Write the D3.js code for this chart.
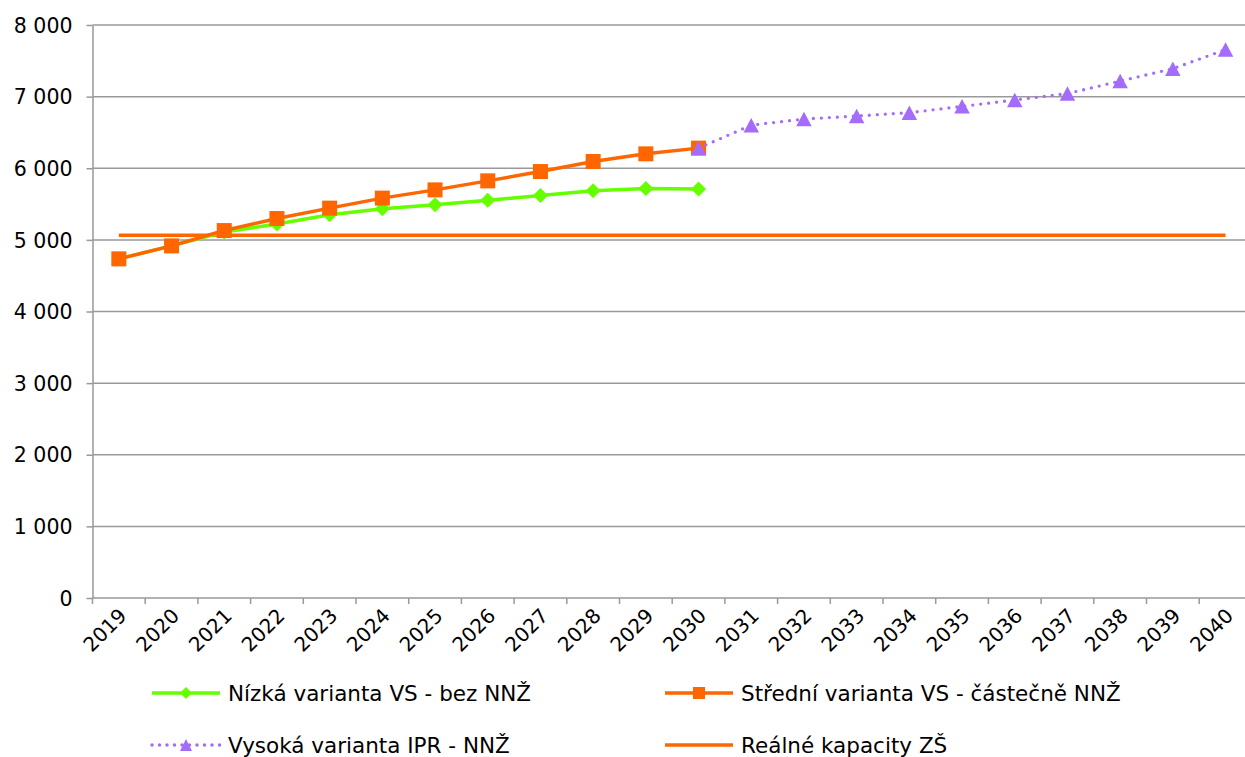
<!DOCTYPE html>
<html>
<head>
  <meta charset="utf-8">
  <title>kapacity</title>
  <style>
    body {margin:0; background:#fff;}
    svg text {font-family: "DejaVu Sans", Verdana, sans-serif; fill:#000;}
    .grid line {stroke:#999; stroke-width:1.5;}
    .axis path, .axis line {stroke:#999; stroke-width:1.5;}
  </style>
</head>
<body>
<script src="https://cdn.jsdelivr.net/npm/d3@7"></script>
<script>
  var width = 1245,
      height = 757,
      plotLeft = 92.5,
      plotRight = 1251.9,
      plotTop = 25,
      plotBottom = 598;

  var years = d3.range(2019, 2041).map(String);
  var yTicks = [0, 1000, 2000, 3000, 4000, 5000, 6000, 7000, 8000];

  var nizka    = [4735, 4916, 5110, 5223, 5350, 5435, 5490, 5552, 5620, 5686, 5716, 5710];
  var stredni  = [4735, 4916, 5130, 5298, 5443, 5583, 5698, 5824, 5954, 6094, 6201, 6281];
  var vysoka   = [6281, 6602, 6687, 6729, 6776, 6864, 6953, 7042, 7218, 7390, 7657];
  var kapacity = [5066, 5066, 5066, 5066, 5066, 5066, 5066, 5066, 5066, 5066, 5066,
                  5066, 5066, 5066, 5066, 5066, 5066, 5066, 5066, 5066, 5066, 5066];

  var names = ['Nízká varianta VS - bez NNŽ', 'Střední varianta VS - částečně NNŽ',
               'Vysoká varianta IPR - NNŽ', 'Reálné kapacity ZŠ'];

  var green = '#66ff00', orange = '#ff6600', purple = '#a56bfb';

  var svg = d3.select('body').append('svg')
    .attr('width', width)
    .attr('height', height);

  var x = d3.scaleBand().domain(years).range([plotLeft, plotRight]);
  var y = d3.scaleLinear().domain([0, 8000]).range([plotBottom, plotTop]);
  var fmt = function(d){ return d3.format(',')(d).replace(',', ' '); };

  // marker shapes, centred on 0,0
  function diamond(r){ return 'M0,' + (-r) + 'L' + r + ',0L0,' + r + 'L' + (-r) + ',0Z'; }
  function triangle(w, h){ return 'M0,' + (-h/2) + 'L' + (w/2) + ',' + (h/2) + 'L' + (-w/2) + ',' + (h/2) + 'Z'; }

  // gridlines
  svg.append('g').attr('class', 'grid')
    .selectAll('line').data(yTicks.slice(1)).join('line')
    .attr('x1', plotLeft).attr('x2', width)
    .attr('y1', y).attr('y2', y);

  // y axis
  var ya = svg.append('g').attr('class', 'axis')
    .attr('transform', 'translate(' + plotLeft + ',0)')
    .call(d3.axisLeft(y).tickValues(yTicks).tickSize(6).tickSizeOuter(0).tickFormat(fmt));
  ya.selectAll('text').attr('font-size', 20.5).attr('x', -20).attr('dy', '0.35em')
    .style('font-family', '"DejaVu Sans", Verdana, sans-serif');

  // x axis
  var xa = svg.append('g').attr('class', 'axis')
    .attr('transform', 'translate(0,' + plotBottom + ')')
    .call(d3.axisBottom(x).tickSize(0).tickSizeOuter(0));
  xa.select('.domain').attr('d', 'M' + plotLeft + ',0H' + width);
  xa.selectAll('.tick line').remove();
  xa.selectAll('.tickmark').data(years.concat(['end'])).join('line')
    .attr('class', 'tickmark')
    .attr('x1', function(d, i){ return plotLeft + i * x.step(); })
    .attr('x2', function(d, i){ return plotLeft + i * x.step(); })
    .attr('y1', 0).attr('y2', 6)
    .attr('stroke', '#999').attr('stroke-width', 1.5);
  xa.selectAll('.tick text')
    .attr('font-size', 20)
    .style('font-family', '"DejaVu Sans", Verdana, sans-serif')
    .attr('text-anchor', 'end')
    .attr('dy', 0).attr('y', 0)
    .attr('transform', 'translate(9,19) rotate(-45)');

  var cx = function(d, i){ return x(years[i]) + x.bandwidth() / 2; };

  function line(data, offset){
    return d3.line()
      .x(function(d, i){ return x(years[i + offset]) + x.bandwidth() / 2; })
      .y(function(d){ return y(d); })(data);
  }

  // capacity
  svg.append('path').attr('d', line(kapacity, 0))
    .attr('fill', 'none').attr('stroke', orange).attr('stroke-width', 3.5);

  // low
  svg.append('path').attr('d', line(nizka, 0))
    .attr('fill', 'none').attr('stroke', green).attr('stroke-width', 3.5);
  svg.append('g').selectAll('path').data(nizka).join('path')
    .attr('d', diamond(7.5))
    .attr('transform', function(d, i){ return 'translate(' + cx(d, i) + ',' + y(d) + ')'; })
    .attr('fill', green);

  // middle
  svg.append('path').attr('d', line(stredni, 0))
    .attr('fill', 'none').attr('stroke', orange).attr('stroke-width', 3.5);
  svg.append('g').selectAll('rect').data(stredni).join('rect')
    .attr('x', function(d, i){ return cx(d, i) - 7.5; })
    .attr('y', function(d){ return y(d) - 7.5; })
    .attr('width', 15).attr('height', 15)
    .attr('fill', orange);

  // high
  svg.append('path').attr('d', line(vysoka, 11))
    .attr('fill', 'none').attr('stroke', purple).attr('stroke-width', 3.3)
    .attr('stroke-linecap', 'round').attr('stroke-dasharray', '0,8');
  svg.append('g').selectAll('path').data(vysoka).join('path')
    .attr('d', triangle(15.5, 14.5))
    .attr('transform', function(d, i){ return 'translate(' + cx(d, i + 11) + ',' + y(d) + ')'; })
    .attr('fill', purple);

  // legend
  var legend = [
    {name: names[0], c: green, x: 152, y: 693, mark: 'diamond'},
    {name: names[1], c: orange, x: 665, y: 693, mark: 'square'},
    {name: names[2], c: purple, x: 152, y: 745, mark: 'triangle', dots: true},
    {name: names[3], c: orange, x: 665, y: 745, mark: null}
  ];

  var lg = svg.append('g').selectAll('g').data(legend).join('g')
    .attr('transform', function(d){ return 'translate(' + d.x + ',' + d.y + ')'; });

  lg.append('line')
    .attr('x1', 0).attr('x2', 68).attr('y1', 0).attr('y2', 0)
    .attr('stroke', function(d){ return d.c; })
    .attr('stroke-width', 3.5)
    .attr('stroke-linecap', function(d){ return d.dots ? 'round' : 'butt'; })
    .attr('stroke-dasharray', function(d){ return d.dots ? '0,7.5' : null; });

  lg.filter(function(d){ return d.mark === 'diamond'; }).append('path')
    .attr('d', diamond(6)).attr('transform', 'translate(34,0)')
    .attr('fill', green);
  lg.filter(function(d){ return d.mark === 'square'; }).append('rect')
    .attr('x', 28).attr('y', -6).attr('width', 12).attr('height', 12)
    .attr('fill', orange);
  lg.filter(function(d){ return d.mark === 'triangle'; }).append('path')
    .attr('d', triangle(12, 12)).attr('transform', 'translate(34,0)')
    .attr('fill', purple);

  lg.append('text')
    .attr('x', 76).attr('y', 0).attr('dy', '0.35em')
    .attr('font-size', 21.5)
    .text(function(d){ return d.name; });
</script>
</body>
</html>
